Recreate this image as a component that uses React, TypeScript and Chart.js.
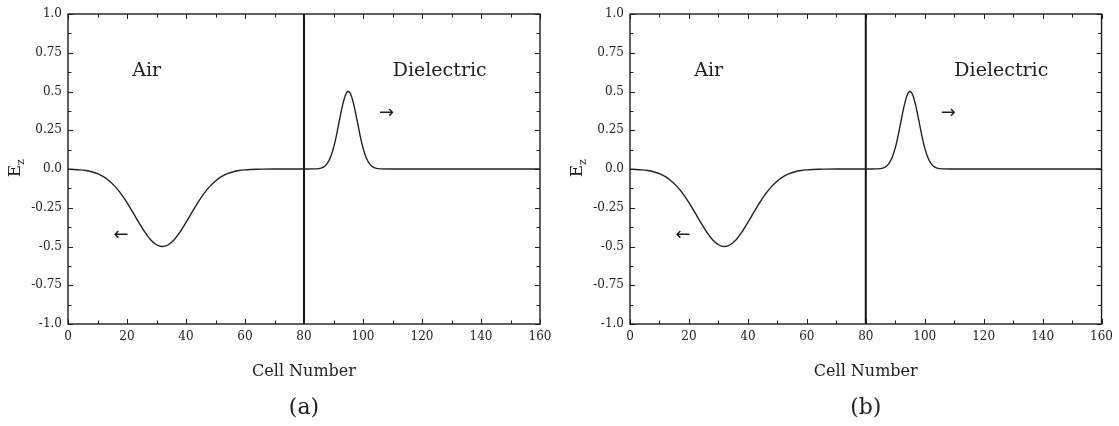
import React, { useEffect, useRef } from "react";
import { Chart, registerables } from "chart.js";

Chart.register(...registerables);

// Cell numbers and field values (E_z) (same in both panels)
const cellNumbers = [
  0, 2, 4, 6, 8, 10, 12, 14, 16, 18, 20, 22, 24, 26, 28, 30, 32, 34, 36, 38, 40,
  42, 44, 46, 48, 50, 52, 54, 56, 58, 60, 62, 64, 66, 70, 75, 80, 84, 86, 87, 88,
  89, 90, 91, 92, 93, 94, 95, 96, 97, 98, 99, 100, 101, 102, 103, 104, 106, 110,
  120, 140, 160,
];
const ezValues = [
  -0.0013, -0.0028, -0.0054, -0.01, -0.0179, -0.0305, -0.0495, -0.0769, -0.1138,
  -0.161, -0.2175, -0.2805, -0.345, -0.406, -0.456, -0.4886, -0.5, -0.4886, -0.456,
  -0.406, -0.345, -0.2805, -0.2175, -0.161, -0.1138, -0.0769, -0.0495, -0.0305,
  -0.0179, -0.01, -0.0054, -0.0028, -0.0013, -0.0006, -0.0001, 0, 0, 0.0009, 0.0074,
  0.0179, 0.0391, 0.0769, 0.136, 0.2175, 0.313, 0.406, 0.4747, 0.5, 0.4747, 0.406,
  0.313, 0.2175, 0.136, 0.0769, 0.0391, 0.0179, 0.0074, 0.0009, 0, 0, 0, 0,
];

// Interface between air and dielectric
const interfaceCell = 80;
const interfaceYs = [-1, 1];

// Axis ranges / ticks
const xMin = 0;
const xMax = 160;
const xMajorStep = 20;
const xMinorStep = 10;
const yMin = -1;
const yMax = 1;
const yMajorStep = 0.25;
const yMinorStep = 0.125;

// Annotations (data coordinates)
const noteTexts = ["Air", "Dielectric", "\u2190", "\u2192"];
const noteX = [26.7, 126, 18, 108];
const noteY = [0.63, 0.63, -0.43, 0.36];

const xTitle = "Cell Number";
const panelLabels = ["(a)", "(b)"];

const SERIF = "'DejaVu Serif', serif";
const INK = "#1e1e1e";

function fmtY(v: number): string {
  const r = Math.round(v * 100) / 100;
  if (Math.abs(r * 10 - Math.round(r * 10)) < 1e-9) return r.toFixed(1);
  return r.toFixed(2);
}

function makeDecor(panelLabel: string) {
  return {
    id: "decor",
    afterDraw(chart: any) {
      const ctx = chart.ctx as CanvasRenderingContext2D;
      const { left, right, top, bottom } = chart.chartArea;
      const xs = chart.scales.x;
      const ys = chart.scales.y;
      ctx.save();
      ctx.strokeStyle = INK;
      ctx.lineWidth = 1.4;
      ctx.strokeRect(left, top, right - left, bottom - top);
      ctx.lineWidth = 1;
      for (let v = xMin; v <= xMax + 1e-9; v += xMinorStep) {
        const major = Math.abs(v / xMajorStep - Math.round(v / xMajorStep)) < 1e-9;
        const len = major ? 5 : 3.5;
        const px = Math.round(xs.getPixelForValue(v)) + 0.5;
        ctx.beginPath();
        ctx.moveTo(px, bottom);
        ctx.lineTo(px, bottom - len);
        ctx.moveTo(px, top);
        ctx.lineTo(px, top + len);
        ctx.stroke();
      }
      for (let v = yMin; v <= yMax + 1e-9; v += yMinorStep) {
        const major = Math.abs(v / yMajorStep - Math.round(v / yMajorStep)) < 1e-9;
        const len = major ? 5 : 3.5;
        const py = Math.round(ys.getPixelForValue(v)) + 0.5;
        ctx.beginPath();
        ctx.moveTo(left, py);
        ctx.lineTo(left + len, py);
        ctx.moveTo(right, py);
        ctx.lineTo(right - len, py);
        ctx.stroke();
      }
      ctx.fillStyle = INK;
      ctx.textAlign = "center";
      ctx.textBaseline = "middle";
      noteTexts.forEach((t, i) => {
        const isArrow = t.length === 1;
        ctx.font = isArrow ? "18px 'DejaVu Sans', sans-serif" : `19px ${SERIF}`;
        ctx.fillText(t, xs.getPixelForValue(noteX[i]), ys.getPixelForValue(noteY[i]));
      });
      const cx = (left + right) / 2;
      ctx.font = `16px ${SERIF}`;
      ctx.fillText(xTitle, cx, 372);
      ctx.font = `22px ${SERIF}`;
      ctx.fillText(panelLabel, cx, 408);
      ctx.translate(left - 52, ys.getPixelForValue(0));
      ctx.rotate(-Math.PI / 2);
      ctx.font = `17px ${SERIF}`;
      ctx.textAlign = "center";
      ctx.textBaseline = "middle";
      ctx.fillText("E", -2, 0);
      ctx.font = `11px ${SERIF}`;
      ctx.fillText("z", 7, 5);
      ctx.restore();
    },
  };
}

type PanelProps = {
  label: string;
  width: number;
  areaLeft: number;
  areaRight: number;
};

function Panel({ label, width, areaLeft, areaRight }: PanelProps) {
  const ref = useRef<HTMLCanvasElement | null>(null);
  useEffect(() => {
    if (!ref.current) return;
    const fieldPoints = cellNumbers.map((c, i) => ({ x: c, y: ezValues[i] }));
    const interfacePoints = interfaceYs.map((y) => ({ x: interfaceCell, y }));
    const tickFont = { family: SERIF, size: 12 };
    const chart = new Chart(ref.current, {
      type: "line",
      data: {
        datasets: [
          {
            data: fieldPoints,
            borderColor: "#222",
            borderWidth: 1.4,
            pointRadius: 0,
            cubicInterpolationMode: "monotone",
            fill: false,
          },
          {
            data: interfacePoints,
            borderColor: "#111",
            borderWidth: 2,
            pointRadius: 0,
            fill: false,
          },
        ],
      },
      options: {
        animation: false,
        responsive: false,
        devicePixelRatio: 1,
        layout: { padding: { left: 0, right: width - areaRight, top: 14, bottom: 0 } },
        plugins: { legend: { display: false }, tooltip: { enabled: false } },
        scales: {
          x: {
            type: "linear",
            min: xMin,
            max: xMax,
            ticks: { stepSize: xMajorStep, font: tickFont, color: INK, padding: 6 },
            grid: { display: false, drawTicks: false },
            border: { display: false },
            afterFit: (s: any) => {
              s.height = 426 - 324;
            },
          },
          y: {
            type: "linear",
            min: yMin,
            max: yMax,
            ticks: {
              stepSize: yMajorStep,
              font: tickFont,
              color: INK,
              padding: 6,
              callback: (v: any) => fmtY(Number(v)),
            },
            grid: { display: false, drawTicks: false },
            border: { display: false },
            afterFit: (s: any) => {
              s.width = areaLeft;
            },
          },
        },
      },
      plugins: [makeDecor(label)],
    } as any);
    return () => chart.destroy();
  }, [label, width, areaLeft, areaRight]);
  return <canvas ref={ref} width={width} height={426} style={{ display: "block" }} />;
}

export default function App() {
  return (
    <div style={{ position: "absolute", left: 0, top: 0, width: 1119, height: 426, background: "#fff" }}>
      <div style={{ position: "absolute", left: 0, top: 0 }}>
        <Panel label={panelLabels[0]} width={560} areaLeft={68} areaRight={540} />
      </div>
      <div style={{ position: "absolute", left: 560, top: 0 }}>
        <Panel label={panelLabels[1]} width={559} areaLeft={70} areaRight={546} />
      </div>
    </div>
  );
}
